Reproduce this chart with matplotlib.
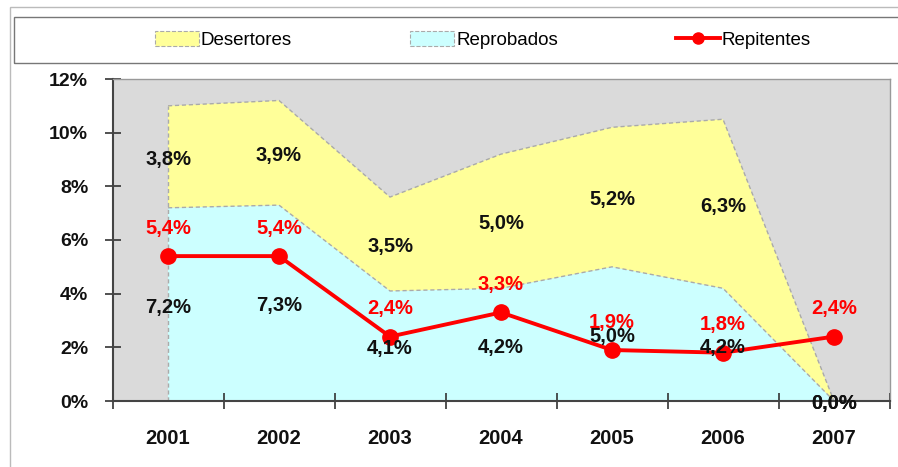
import matplotlib
matplotlib.use("Agg")
import matplotlib.pyplot as plt
from matplotlib.patches import Rectangle, Patch
from matplotlib.lines import Line2D

plt.rcParams['font.family'] = ['Liberation Sans', 'DejaVu Sans']

years = ["2001", "2002", "2003", "2004", "2005", "2006", "2007"]
reprobados = [7.2, 7.3, 4.1, 4.2, 5.0, 4.2, 0.0]
desertores = [3.8, 3.9, 3.5, 5.0, 5.2, 6.3, 0.0]
repitentes = [5.4, 5.4, 2.4, 3.3, 1.9, 1.8, 2.4]
yticks = [0, 2, 4, 6, 8, 10, 12]

W, H = 898, 467
fig = plt.figure(figsize=(W / 100, H / 100), dpi=100)

# outer frame
fig.patches.append(Rectangle((10 / W, -0.01), 1.0, 1 - 7 / H + 0.01, transform=fig.transFigure,
                             fill=False, edgecolor='#bbbbbb', linewidth=1.0))
# legend box
fig.patches.append(Rectangle((14 / W, 1 - 63 / H), 1.0, 46 / H, transform=fig.transFigure,
                             fill=False, edgecolor='#777777', linewidth=1.0))

ax = fig.add_axes([112.5 / W, 1 - 401 / H, (889.5 - 112.5) / W, (401 - 79) / H])
ax.set_facecolor('#dadada')

x = list(range(len(years)))
top = [r + d for r, d in zip(reprobados, desertores)]
ax.fill_between(x, 0, reprobados, facecolor='#ccffff', edgecolor='none', zorder=1)
ax.fill_between(x, reprobados, top, facecolor='#ffff99', edgecolor='none', zorder=1)
ax.plot(x, reprobados, color='#aaaaaa', linestyle=(0, (3, 2)), linewidth=1.0, zorder=2)
ax.plot(x, top, color='#aaaaaa', linestyle=(0, (3, 2)), linewidth=1.0, zorder=2)
ax.plot([0, 0], [0, top[0]], color='#aaaaaa', linestyle=(0, (3, 2)), linewidth=1.0, zorder=2)

ax.plot(x, repitentes, color='#ff0000', linewidth=2.8, marker='o', markersize=11, zorder=4)

def fmt(v):
    return f"{v:.1f}%".replace('.', ',')

lab_fs = 14.5
for i in x:
    ax.annotate(fmt(reprobados[i]), (i, reprobados[i] / 2), xytext=(0, -2), textcoords='offset points',
                ha='center', va='center', fontsize=lab_fs, fontweight='bold', color='#111111', zorder=5)
    ax.annotate(fmt(desertores[i]), (i, reprobados[i] + desertores[i] / 2), xytext=(0, -2),
                textcoords='offset points', ha='center', va='center',
                fontsize=lab_fs, fontweight='bold', color='#111111', zorder=5)
    ax.annotate(fmt(repitentes[i]), (i, repitentes[i]), xytext=(0, 20), textcoords='offset points',
                ha='center', va='center', fontsize=lab_fs, fontweight='bold', color='#ff0000', zorder=5)

ax.set_xlim(-0.5, len(years) - 0.5)
ax.set_ylim(0, 12)
ax.set_yticks(yticks)
ax.set_yticklabels([f"{t}%" for t in yticks], fontsize=14, fontweight='bold', color='#111111')
ax.set_xticks(x)
ax.set_xticklabels(years, fontsize=14.5, fontweight='bold', color='#111111')
ax.set_xticks([i + 0.5 for i in x[:-1]] + [-0.5, len(years) - 0.5], minor=True)
ax.tick_params(axis='x', which='major', length=0, pad=20)
ax.tick_params(axis='x', which='minor', length=11, direction='inout', color='#333333', width=1.2)
ax.tick_params(axis='y', length=11, direction='inout', color='#333333', width=1.2, pad=12)
for s in ['left', 'bottom']:
    ax.spines[s].set_color('#444444')
    ax.spines[s].set_linewidth(1.5)
for s in ['top', 'right']:
    ax.spines[s].set_color('#999999')
    ax.spines[s].set_linewidth(1.0)

handles = [
    Patch(facecolor='#ffff99', edgecolor='#aaaaaa', linestyle='--', linewidth=0.8),
    Patch(facecolor='#ccffff', edgecolor='#aaaaaa', linestyle='--', linewidth=0.8),
    Line2D([0], [0], color='#ff0000', linewidth=2.8, marker='o', markersize=8),
]
fig.legend(handles, ["Desertores", "Reprobados", "Repitentes"], loc='center left',
           bbox_to_anchor=(138 / W, 1 - 40 / H), ncol=3, frameon=False, fontsize=13.5,
           handlelength=2.35, handleheight=0.9, handletextpad=0.1, columnspacing=6.3)

fig.savefig('out.png', dpi=100)
